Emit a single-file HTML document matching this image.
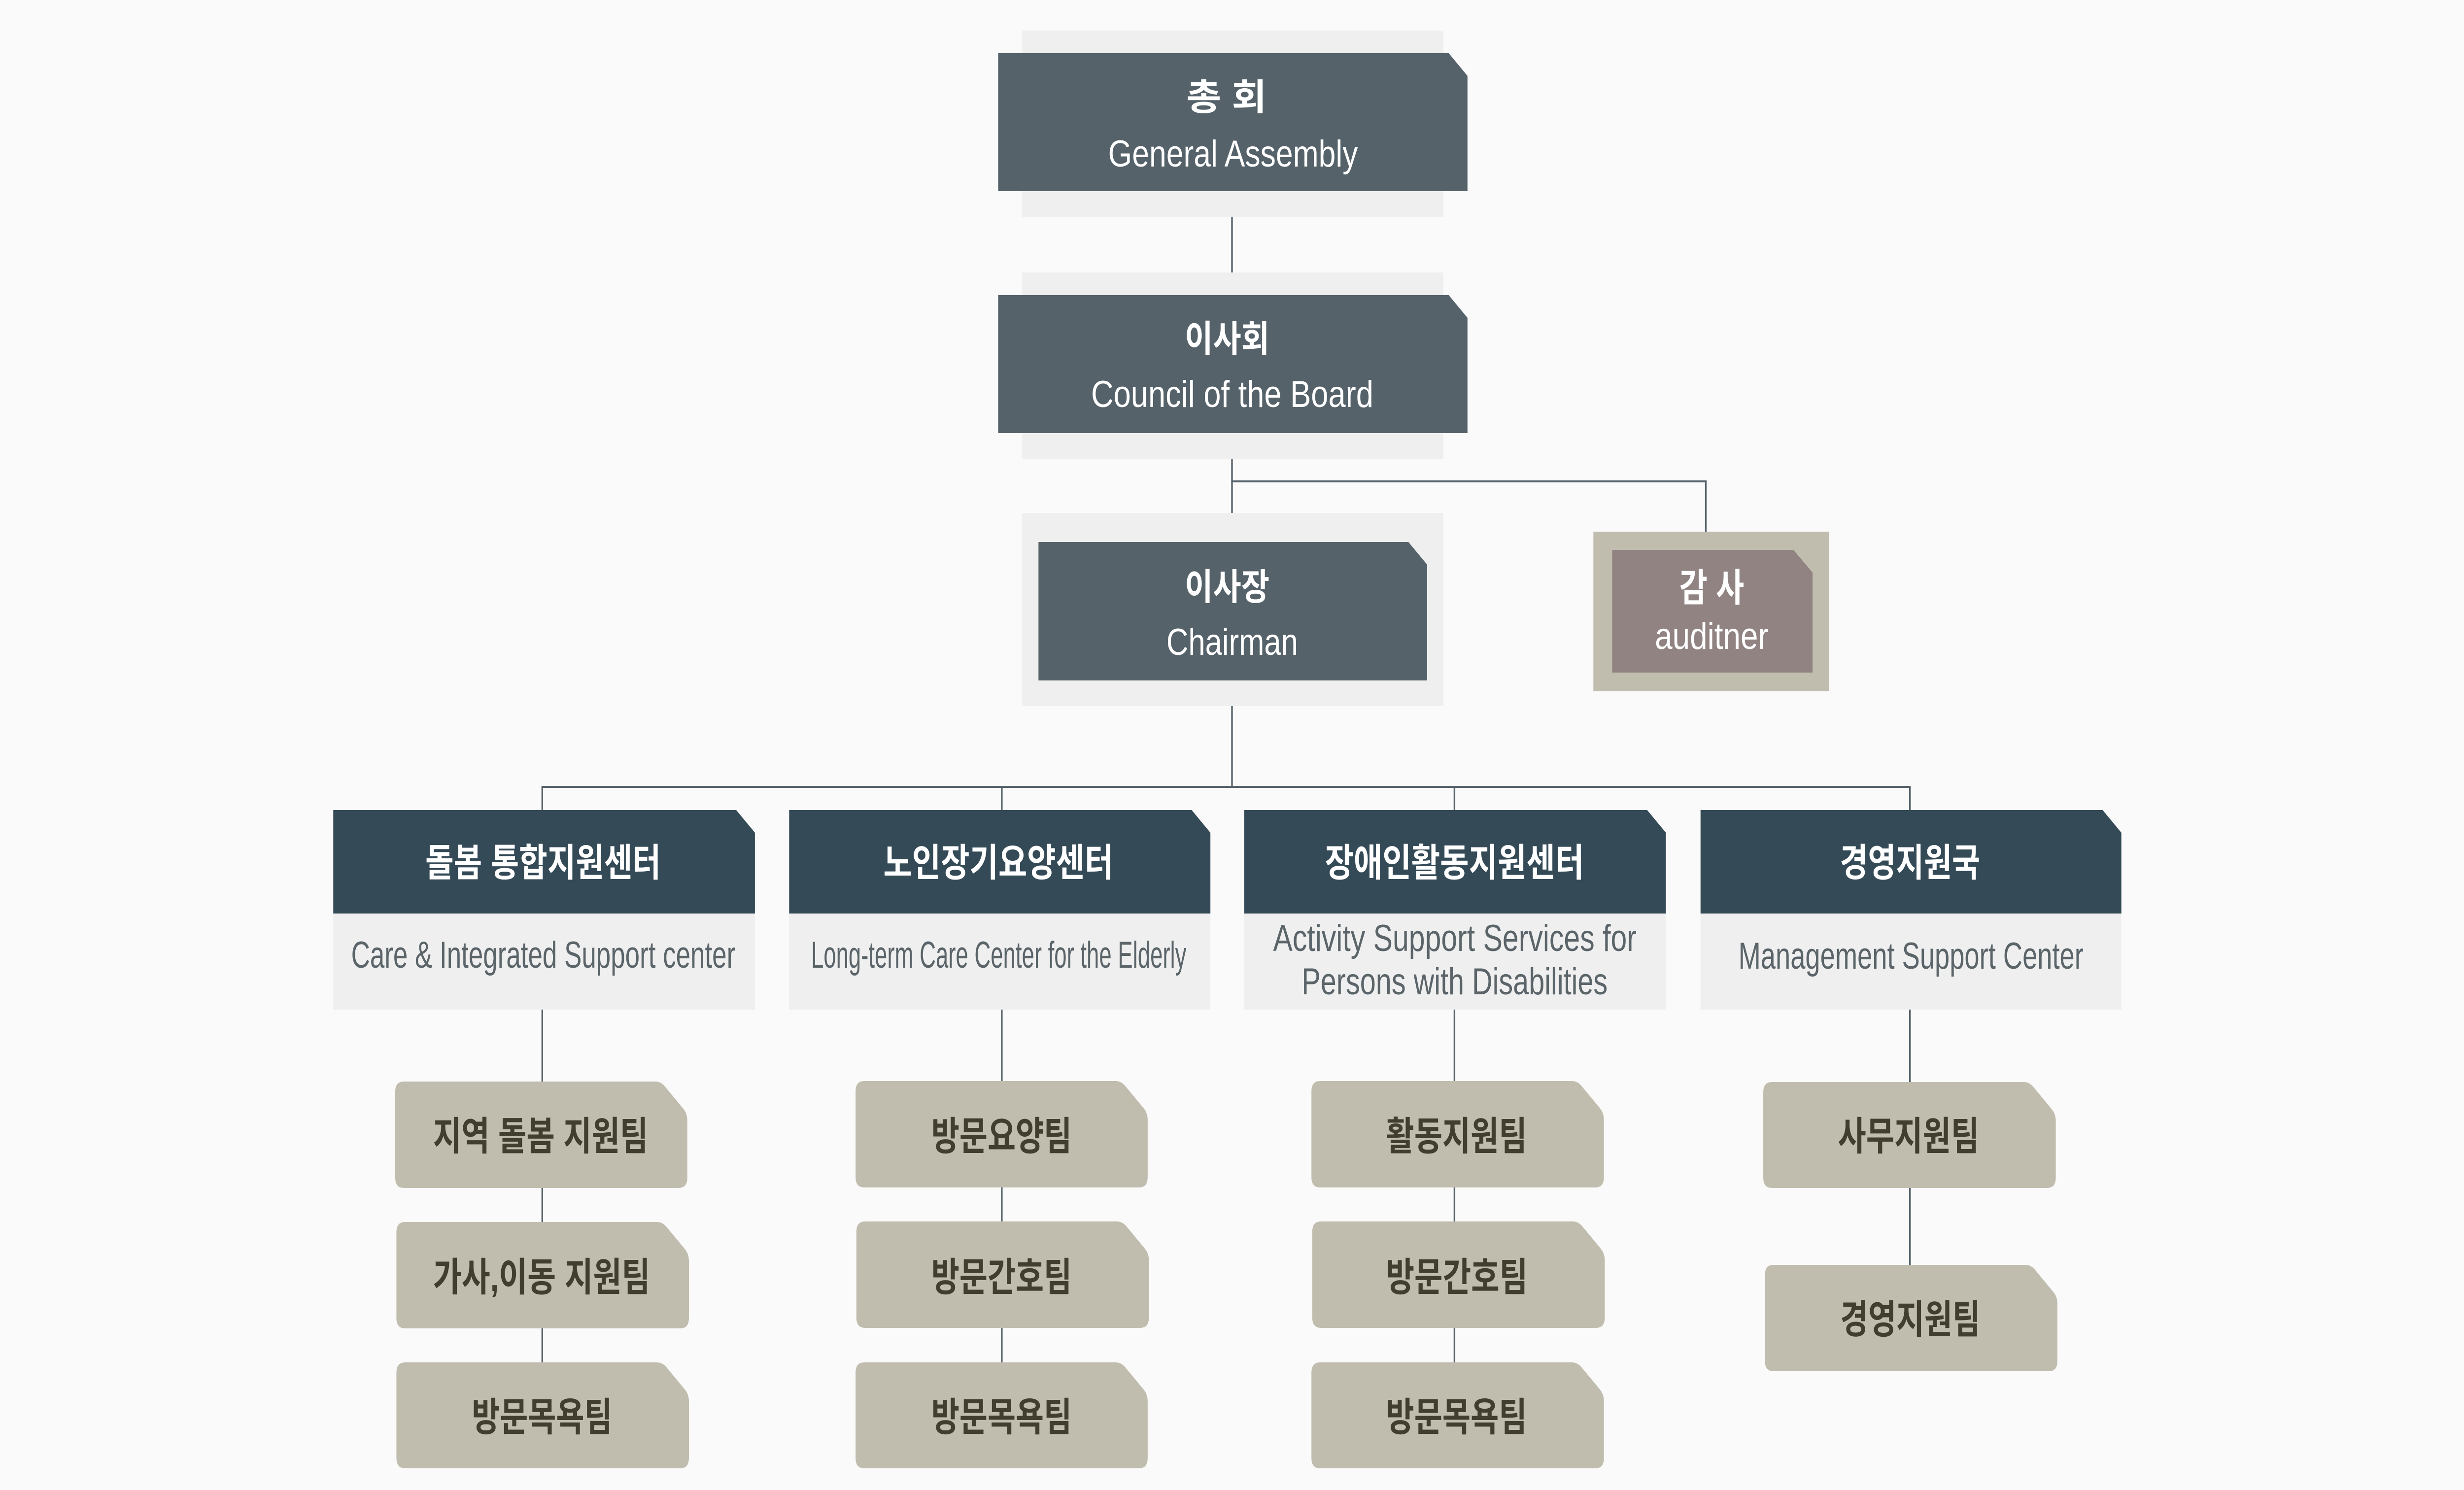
<!DOCTYPE html>
<html>
<head>
<meta charset="utf-8">
<meta name="viewport" content="width=device-width, initial-scale=1">
<style>
html,body{margin:0;padding:0;background:#fafafa;width:100%;height:100%;overflow:hidden;}
svg{display:block;width:100%;height:100%;}
text{font-family:"Liberation Sans","Noto Sans CJK KR",sans-serif;}
.ko{font-weight:700;}
</style>
</head>
<body>
<svg xmlns="http://www.w3.org/2000/svg" viewBox="0 0 6048 3024" preserveAspectRatio="none">
<rect x="0" y="0" width="6048" height="3024" fill="#fafafa"/>

<!-- connectors -->
<g fill="#56636b">
  <rect x="3022" y="441" width="4" height="112"/>
  <rect x="3022" y="931" width="4" height="110"/>
  <rect x="3022" y="975" width="1167" height="4"/>
  <rect x="4185" y="975" width="4" height="104"/>
  <rect x="3022" y="1433" width="4" height="164"/>
  <rect x="1329" y="1595" width="3361" height="4"/>
  <rect x="1329" y="1597" width="4" height="48"/>
  <rect x="2457" y="1597" width="4" height="48"/>
  <rect x="3568" y="1597" width="4" height="48"/>
  <rect x="4686" y="1597" width="4" height="48"/>
  <rect x="1329" y="2049" width="4" height="716"/>
  <rect x="2457" y="2049" width="4" height="716"/>
  <rect x="3568" y="2049" width="4" height="716"/>
  <rect x="4686" y="2049" width="4" height="518"/>
</g>

<!-- General Assembly -->
<rect x="2509" y="62" width="1034" height="379" fill="#efefef"/>
<polygon points="2450,108 3556,108 3602,154 3602,388 2450,388" fill="#55626a"/>
<text class="ko" x="2912" y="223" font-size="74" fill="#ffffff" textLength="197" lengthAdjust="spacingAndGlyphs">총 회</text>
<text x="2720" y="338" font-size="76" fill="#ffffff" textLength="613" lengthAdjust="spacingAndGlyphs">General Assembly</text>

<!-- Council of the Board -->
<rect x="2509" y="553" width="1034" height="378" fill="#efefef"/>
<polygon points="2450,599 3556,599 3602,645 3602,879 2450,879" fill="#55626a"/>
<text class="ko" x="2908" y="713" font-size="74" fill="#ffffff" textLength="208" lengthAdjust="spacingAndGlyphs">이사회</text>
<text x="2678" y="826" font-size="76" fill="#ffffff" textLength="693" lengthAdjust="spacingAndGlyphs">Council of the Board</text>

<!-- Chairman -->
<rect x="2509" y="1041" width="1034" height="392" fill="#efefef"/>
<polygon points="2549,1100 3457,1100 3503,1146 3503,1381 2549,1381" fill="#55626a"/>
<text class="ko" x="2908" y="1217" font-size="74" fill="#ffffff" textLength="208" lengthAdjust="spacingAndGlyphs">이사장</text>
<text x="2863" y="1329" font-size="76" fill="#ffffff" textLength="323" lengthAdjust="spacingAndGlyphs">Chairman</text>

<!-- Auditor -->
<rect x="3911" y="1079" width="578" height="324" fill="#c1bdae"/>
<polygon points="3957,1116 4402,1116 4449,1162 4449,1365 3957,1365" fill="#928383"/>
<text class="ko" x="4122" y="1220" font-size="78" fill="#ffffff" textLength="159" lengthAdjust="spacingAndGlyphs">감 사</text>
<text x="4062" y="1317" font-size="76" fill="#ffffff" textLength="279" lengthAdjust="spacingAndGlyphs">auditner</text>

<!-- Center header boxes -->
<polygon points="818,1644 1807,1644 1853,1690 1853,1854 818,1854" fill="#344a57"/>
<rect x="818" y="1854" width="1035" height="195" fill="#efefef"/>
<polygon points="1937,1644 2925,1644 2971,1690 2971,1854 1937,1854" fill="#344a57"/>
<rect x="1937" y="1854" width="1034" height="195" fill="#efefef"/>
<polygon points="3054,1644 4043,1644 4089,1690 4089,1854 3054,1854" fill="#344a57"/>
<rect x="3054" y="1854" width="1035" height="195" fill="#efefef"/>
<polygon points="4174,1644 5161,1644 5207,1690 5207,1854 4174,1854" fill="#344a57"/>
<rect x="4174" y="1854" width="1033" height="195" fill="#efefef"/>

<text class="ko" x="1044" y="1778" font-size="78" fill="#ffffff" textLength="578" lengthAdjust="spacingAndGlyphs">돌봄 통합지원센터</text>
<text class="ko" x="2168" y="1778" font-size="78" fill="#ffffff" textLength="565" lengthAdjust="spacingAndGlyphs">노인장기요양센터</text>
<text class="ko" x="3252" y="1778" font-size="78" fill="#ffffff" textLength="636" lengthAdjust="spacingAndGlyphs">장애인활동지원센터</text>
<text class="ko" x="4516" y="1778" font-size="78" fill="#ffffff" textLength="344" lengthAdjust="spacingAndGlyphs">경영지원국</text>

<g fill="#5a6469" font-size="76">
<text x="862" y="1964" textLength="943" lengthAdjust="spacingAndGlyphs">Care &amp; Integrated Support center</text>
<text x="1991" y="1964" textLength="921" lengthAdjust="spacingAndGlyphs">Long-term Care Center for the Elderly</text>
<text x="3125" y="1930" textLength="892" lengthAdjust="spacingAndGlyphs">Activity Support Services for</text>
<text x="3195" y="2018" textLength="751" lengthAdjust="spacingAndGlyphs">Persons with Disabilities</text>
<text x="4267" y="1966" textLength="847" lengthAdjust="spacingAndGlyphs">Management Support Center</text>
</g>

<!-- Team boxes -->
<g fill="#c1bdae">
<path d="M991,2195 H1608 Q1622,2195 1632,2205 L1677,2250 Q1687,2260 1687,2274 V2390 Q1687,2411 1666,2411 H991 Q970,2411 970,2390 V2216 Q970,2195 991,2195 Z"/>
<path d="M994,2480 H1612 Q1626,2480 1636,2490 L1681,2535 Q1691,2545 1691,2559 V2675 Q1691,2696 1670,2696 H994 Q973,2696 973,2675 V2501 Q973,2480 994,2480 Z"/>
<path d="M994,2765 H1612 Q1626,2765 1636,2775 L1681,2820 Q1691,2830 1691,2844 V2959 Q1691,2980 1670,2980 H994 Q973,2980 973,2959 V2786 Q973,2765 994,2765 Z"/>
<path d="M2121,2194 H2738 Q2752,2194 2762,2204 L2807,2249 Q2817,2259 2817,2273 V2389 Q2817,2410 2796,2410 H2121 Q2100,2410 2100,2389 V2215 Q2100,2194 2121,2194 Z"/>
<path d="M2123,2479 H2741 Q2755,2479 2765,2489 L2810,2534 Q2820,2544 2820,2558 V2674 Q2820,2695 2799,2695 H2123 Q2102,2695 2102,2674 V2500 Q2102,2479 2123,2479 Z"/>
<path d="M2121,2765 H2738 Q2752,2765 2762,2775 L2807,2820 Q2817,2830 2817,2844 V2959 Q2817,2980 2796,2980 H2121 Q2100,2980 2100,2959 V2786 Q2100,2765 2121,2765 Z"/>
<path d="M3240,2194 H3858 Q3872,2194 3882,2204 L3927,2249 Q3937,2259 3937,2273 V2389 Q3937,2410 3916,2410 H3240 Q3219,2410 3219,2389 V2215 Q3219,2194 3240,2194 Z"/>
<path d="M3242,2479 H3860 Q3874,2479 3884,2489 L3929,2534 Q3939,2544 3939,2558 V2674 Q3939,2695 3918,2695 H3242 Q3221,2695 3221,2674 V2500 Q3221,2479 3242,2479 Z"/>
<path d="M3240,2765 H3858 Q3872,2765 3882,2775 L3927,2820 Q3937,2830 3937,2844 V2959 Q3937,2980 3916,2980 H3240 Q3219,2980 3219,2959 V2786 Q3219,2765 3240,2765 Z"/>
<path d="M4349,2196 H4967 Q4981,2196 4991,2206 L5036,2251 Q5046,2261 5046,2275 V2390 Q5046,2411 5025,2411 H4349 Q4328,2411 4328,2390 V2217 Q4328,2196 4349,2196 Z"/>
<path d="M4353,2567 H4971 Q4985,2567 4995,2577 L5040,2622 Q5050,2632 5050,2646 V2762 Q5050,2783 5029,2783 H4353 Q4332,2783 4332,2762 V2588 Q4332,2567 4353,2567 Z"/>
</g>

<g class="ko" fill="#413e30" font-size="80" font-weight="700">
<text x="1063" y="2334" textLength="528" lengthAdjust="spacingAndGlyphs">지역 돌봄 지원팀</text>
<text x="1063" y="2620" textLength="533" lengthAdjust="spacingAndGlyphs">가사,이동 지원팀</text>
<text x="1158" y="2904" textLength="345" lengthAdjust="spacingAndGlyphs">방문목욕팀</text>
<text x="2286" y="2334" textLength="345" lengthAdjust="spacingAndGlyphs">방문요양팀</text>
<text x="2286" y="2620" textLength="345" lengthAdjust="spacingAndGlyphs">방문간호팀</text>
<text x="2286" y="2904" textLength="345" lengthAdjust="spacingAndGlyphs">방문목욕팀</text>
<text x="3402" y="2334" textLength="346" lengthAdjust="spacingAndGlyphs">활동지원팀</text>
<text x="3402" y="2620" textLength="348" lengthAdjust="spacingAndGlyphs">방문간호팀</text>
<text x="3402" y="2904" textLength="346" lengthAdjust="spacingAndGlyphs">방문목욕팀</text>
<text x="4511" y="2334" textLength="347" lengthAdjust="spacingAndGlyphs">사무지원팀</text>
<text x="4517" y="2706" textLength="344" lengthAdjust="spacingAndGlyphs">경영지원팀</text>
</g>
</svg>
</body>
</html>
